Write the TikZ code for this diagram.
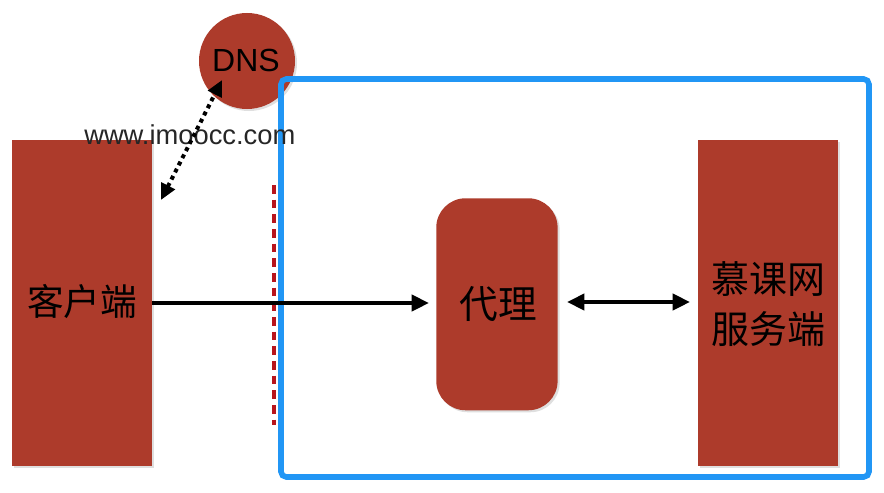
\documentclass[tikz,border=0pt]{standalone}
\usepackage{fontspec}
\setmainfont{Liberation Sans}
\newfontfamily\cjk{Noto Sans CJK SC}
\usetikzlibrary{arrows.meta,shadows}
\definecolor{brick}{HTML}{AD3B2B}
\definecolor{boxblue}{HTML}{2196F5}
\definecolor{dashred}{HTML}{B8141C}
\tikzset{
  block/.style={fill=brick, draw=none, inner sep=0pt, drop shadow={shadow xshift=1.5pt, shadow yshift=-1.5pt, opacity=0.25}},
  conn/.style={line width=2.8pt, -{Triangle[length=13pt,width=12pt]}},
  dconn/.style={line width=2.8pt, {Triangle[length=13pt,width=12pt]}-{Triangle[length=13pt,width=12pt]}},
}
\begin{document}
\begin{tikzpicture}[x=0.75pt,y=-0.75pt]
\useasboundingbox (0,0) rectangle (884,492);
\fill[white] (0,0) rectangle (884,492);
% client
\node[block, minimum width=105pt, minimum height=244.5pt, anchor=north west] (client) at (12,140) {};
\node[font=\cjk\fontsize{27.5}{30}\selectfont] (clientlabel) at (82,302) {客户端};
% server
\node[block, minimum width=105pt, minimum height=244.5pt, anchor=north west] (server) at (698,140) {};
\node[font=\cjk\fontsize{28.5}{37.5}\selectfont, align=center] (serverlabel) at (768,304) {慕课网\\服务端};
% proxy
\node[block, rounded corners=22pt, minimum width=91pt, minimum height=159pt, anchor=north west] (proxy) at (436,198) {};
\node[font=\cjk\fontsize{29}{30}\selectfont] (proxylabel) at (498,304) {代理};
% DNS
\node[block, circle, minimum size=72pt] (dns) at (247,61) {};
\node[font=\fontsize{24}{28}\selectfont] (dnslabel) at (246,60) {DNS};
% blue frame
\draw[boxblue, line width=4.2pt, rounded corners=4pt] (281,79) rectangle (869,477);
% dashed red line
\coordinate (dtop) at (274,185);
\coordinate (dbot) at (274,425);
\draw[dashred, line width=3pt, dash pattern=on 6.5pt off 4.5pt] (dtop) -- (dbot);
% url
\node[font=\fontsize{20.5}{24}\selectfont, text=black!85, anchor=west, inner sep=0pt] (url) at (84,135) {www.imoocc.com};
% connectors
\coordinate (dnsA) at (222,80);
\coordinate (cliA) at (161,200);
\draw[line width=3pt, dash pattern=on 3pt off 3pt, {Triangle[length=12pt,width=11pt]}-{Triangle[length=12pt,width=11pt]}] (cliA) -- (dnsA);
\coordinate (c1) at (152,303);
\coordinate (p1) at (429,303);
\draw[conn] (c1) -- (p1);
\coordinate (p2) at (567,302);
\coordinate (s1) at (690,302);
\draw[dconn] (p2) -- (s1);
\end{tikzpicture}
\end{document}
